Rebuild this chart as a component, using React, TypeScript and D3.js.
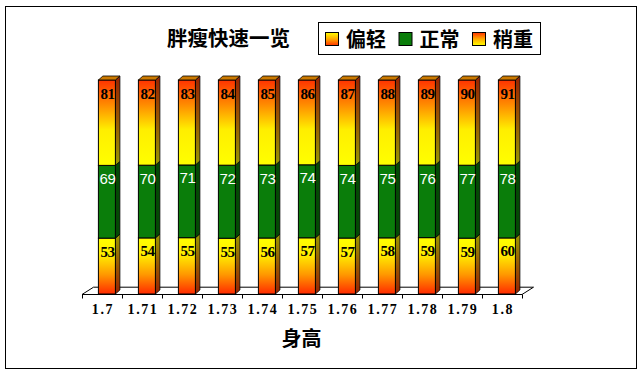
import React, { useEffect, useRef } from 'react';
import * as d3 from 'd3';

// heights (m) and the three weight groups
const heights = ["1.7", "1.71", "1.72", "1.73", "1.74", "1.75", "1.76", "1.77", "1.78", "1.79", "1.8"];
const lightVals = [53, 54, 55, 55, 56, 57, 57, 58, 59, 59, 60];
const normalVals = [69, 70, 71, 72, 73, 74, 74, 75, 76, 77, 78];
const heavyVals = [81, 82, 83, 84, 85, 86, 87, 88, 89, 90, 91];
const seriesNames = ["偏轻", "正常", "稍重"];

const W = 642;
const H = 375;

const App: React.FC = () => {
  const svgRef = useRef<SVGSVGElement>(null);

  useEffect(() => {
    if (!svgRef.current) return;
    const svg = d3.select(svgRef.current);
    svg.selectAll("*").remove();

    const rows = heights.map((h, i) => ({
      h,
      light: lightVals[i],
      normal: normalVals[i],
      heavy: heavyVals[i],
    }));
    const keys = ["light", "normal", "heavy"];
    const stacked = d3.stack<any>().keys(keys).offset(d3.stackOffsetExpand)(rows);

    const x = d3.scaleBand<string>().domain(heights).range([82, 522]);
    const y = d3.scaleLinear().domain([0, 1]).range([294, 80]);

    const barW = 17;
    const dx = 4.5;
    const dy = -4;
    const floorDx = 11.5;
    const floorDy = -7.3;
    const frontX = (c: string) => (x(c) as number) + x.bandwidth() * 0.41;

    // gradients
    const defs = svg.append("defs");
    const grad = (id: string, stops: [number, string][]) => {
      const g = defs.append("linearGradient").attr("id", id)
        .attr("x1", 0).attr("y1", 0).attr("x2", 0).attr("y2", 1);
      stops.forEach(([o, c]) => g.append("stop").attr("offset", o).attr("stop-color", c));
    };
    grad("gLight", [[0, "#ffff00"], [0.3, "#ffee00"], [0.65, "#ff9900"], [1, "#ff2a00"]]);
    grad("gHeavy", [[0, "#ff3300"], [0.28, "#ff8800"], [0.58, "#ffee00"], [1, "#ffff00"]]);
    grad("gLightSide", [[0, "#999900"], [0.5, "#995a00"], [1, "#992200"]]);
    grad("gHeavySide", [[0, "#992200"], [0.5, "#995a00"], [1, "#999900"]]);
    grad("gLegLight", [[0, "#ffff00"], [0.5, "#ffaa00"], [1, "#ff3300"]]);
    grad("gLegHeavy", [[0, "#ff3300"], [0.5, "#ffaa00"], [1, "#ffff00"]]);

    const fronts: Record<string, string> = { light: "url(#gLight)", normal: "#0a7d0a", heavy: "url(#gHeavy)" };
    const sides: Record<string, string> = { light: "url(#gLightSide)", normal: "#044a04", heavy: "url(#gHeavySide)" };
    const labelStyle: Record<string, { fill: string; weight: string; family: string }> = {
      light: { fill: "#000", weight: "bold", family: "'Liberation Serif', serif" },
      normal: { fill: "#fff", weight: "normal", family: "'Liberation Sans', sans-serif" },
      heavy: { fill: "#000", weight: "bold", family: "'Liberation Serif', serif" },
    };

    // outer frame
    svg.append("rect").attr("x", 5.5).attr("y", 6.5).attr("width", 631).attr("height", 362)
      .attr("fill", "#fff").attr("stroke", "#000").attr("stroke-width", 1);

    // floor
    const [x0, x1] = x.range();
    const fy = 294.5;
    const floor = svg.append("g").attr("stroke", "#000").attr("stroke-width", 1).attr("fill", "none");
    floor.append("path").attr("d",
      `M${x0},${fy} L${x1},${fy} L${x1 + floorDx},${fy + floorDy} L${x0 + floorDx},${fy + floorDy} Z`);
    const ticks = [x0, ...heights.map(c => (x(c) as number) + x.bandwidth())];
    ticks.forEach(t => {
      floor.append("line").attr("x1", t + 0.5).attr("x2", t + 0.5).attr("y1", fy).attr("y2", fy + 4);
    });

    // bars
    stacked.forEach(layer => {
      const key = layer.key;
      layer.forEach((d: any) => {
        const c = d.data.h;
        const xl = frontX(c);
        const yTop = y(d[1]);
        const yBot = y(d[0]);
        const g = svg.append("g");
        // side
        g.append("path")
          .attr("d", `M${xl + barW},${yTop} L${xl + barW + dx},${yTop + dy} L${xl + barW + dx},${yBot + dy} L${xl + barW},${yBot} Z`)
          .attr("fill", sides[key]).attr("stroke", "#000").attr("stroke-width", 0.8);
        // front
        g.append("rect").attr("x", xl).attr("y", yTop).attr("width", barW).attr("height", yBot - yTop)
          .attr("fill", fronts[key]).attr("stroke", "#000").attr("stroke-width", 1);
        if (key === "heavy") {
          g.append("path")
            .attr("d", `M${xl},${yTop} L${xl + dx},${yTop + dy} L${xl + barW + dx},${yTop + dy} L${xl + barW},${yTop} Z`)
            .attr("fill", "#cc7a00").attr("stroke", "#000").attr("stroke-width", 0.8);
        }
        const raw = d.data[key];
        const st = labelStyle[key];
        g.append("text")
          .attr("x", xl + barW / 2 + 0.5)
          .attr("y", yTop + 18.5)
          .attr("text-anchor", "middle")
          .style("font-family", st.family)
          .style("font-weight", st.weight)
          .style("font-size", "15px")
          .style("letter-spacing", "-0.5px")
          .style("fill", st.fill)
          .text(raw);
      });
    });

    // category labels
    svg.append("g").selectAll("text").data(heights).join("text")
      .attr("x", c => (x(c) as number) + x.bandwidth() / 2 + 1)
      .attr("y", 314)
      .attr("text-anchor", "middle")
      .style("font-family", "'Liberation Serif', serif")
      .style("font-weight", "bold")
      .style("font-size", "14px")
      .style("letter-spacing", "1.6px")
      .text(c => c);

    // axis title
    svg.append("text").attr("x", 301.5).attr("y", 346).attr("text-anchor", "middle")
      .style("font-family", "'Noto Sans CJK SC', sans-serif").style("font-weight", "bold")
      .style("font-size", "20px").text("身高");

    // chart title
    svg.append("text").attr("x", 167).attr("y", 46)
      .style("font-family", "'Noto Sans CJK SC', sans-serif").style("font-weight", "bold")
      .style("font-size", "20.5px").text("胖瘦快速一览");

    // legend
    svg.append("rect").attr("x", 318.5).attr("y", 22.5).attr("width", 222).attr("height", 32)
      .attr("fill", "#fff").attr("stroke", "#000");
    const legFills = ["url(#gLegLight)", "#0a7d0a", "url(#gLegHeavy)"];
    const swX = [325, 398.5, 472];
    seriesNames.forEach((n, i) => {
      svg.append("rect").attr("x", swX[i] + 0.5).attr("y", 32.5).attr("width", 13).attr("height", 13)
        .attr("fill", legFills[i]).attr("stroke", "#000");
      svg.append("text").attr("x", swX[i] + 21).attr("y", 47)
        .style("font-family", "'Noto Sans CJK SC', sans-serif").style("font-weight", "bold")
        .style("font-size", "20px").text(n);
    });
  }, []);

  return (
    <div style={{ position: "fixed", left: 0, top: 0 }}>
      <svg ref={svgRef} width={W} height={H}></svg>
    </div>
  );
};

export default App;
